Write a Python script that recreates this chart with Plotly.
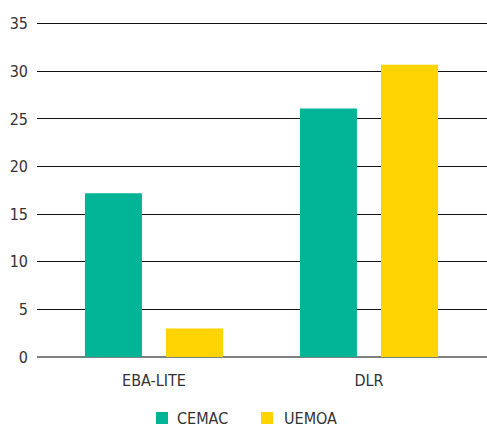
import plotly.graph_objects as go

categories = ["EBA-LITE", "DLR"]
series_names = ["CEMAC", "UEMOA"]
cemac = [17.2, 26.1]
uemoa = [3.0, 30.7]
y_ticks = [0, 5, 10, 15, 20, 25, 30, 35]
colors = ["#00B495", "#FFD400"]

font_family = "'DejaVu Sans Condensed', 'DejaVu Sans', sans-serif"
text_color = "#333333"

fig = go.Figure()
fig.add_trace(go.Bar(x=categories, y=cemac, name=series_names[0],
                     marker=dict(color=colors[0], line=dict(width=0)),
                     width=0.265, offset=-0.321, showlegend=False))
fig.add_trace(go.Bar(x=categories, y=uemoa, name=series_names[1],
                     marker=dict(color=colors[1], line=dict(width=0)),
                     width=0.265, offset=0.056, showlegend=False))

# Legend drawn below the plot (swatch + label) in paper coordinates
legend_swatch_x = [0.2644, 0.4978]
legend_text_x = [0.3067, 0.5444]
sw_w = 0.0267
for name, col, sx, tx in zip(series_names, colors, legend_swatch_x, legend_text_x):
    fig.add_shape(type="rect", xref="paper", yref="paper",
                  x0=sx, x1=sx + sw_w, y0=-0.1982, y1=-0.1627,
                  fillcolor=col, line=dict(width=0), layer="above")
    fig.add_annotation(text=name, xref="paper", yref="paper", x=tx, y=-0.182,
                       xanchor="left", yanchor="middle", showarrow=False,
                       font=dict(family=font_family, size=16, color=text_color))

fig.update_layout(
    width=487, height=427,
    barmode="overlay",
    plot_bgcolor="white", paper_bgcolor="white",
    margin=dict(l=37, r=0, t=19, b=70, autoexpand=False),
    font=dict(family=font_family, size=16, color=text_color),
    showlegend=False,
    xaxis=dict(range=[-0.544, 1.549], showgrid=False, showline=False, zeroline=False,
               ticks="", ticklabelstandoff=12, tickfont=dict(size=16, color=text_color)),
    yaxis=dict(range=[0, 35.5], tickvals=y_ticks, showgrid=True, gridcolor="#111111",
               gridwidth=1, zeroline=True, zerolinecolor="#808080", zerolinewidth=2,
               showline=False, ticks="", ticklabelstandoff=8,
               tickfont=dict(size=16, color=text_color)),
)

fig.write_html("out.html")
